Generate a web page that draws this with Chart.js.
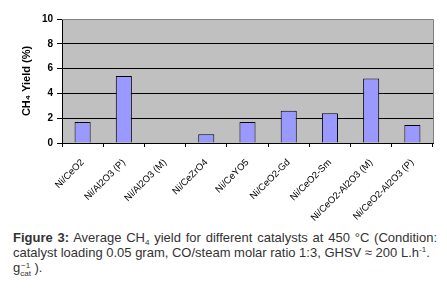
<!DOCTYPE html>
<html><head><meta charset="utf-8">
<script src="https://cdn.jsdelivr.net/npm/chart.js@4/dist/chart.umd.min.js"></script>
<style>
html,body{margin:0;padding:0;background:#fff;width:447px;height:288px;overflow:hidden;}
#wrap{position:absolute;left:0;top:0;width:447px;height:225px;}
#cap{position:absolute;left:13px;top:230px;width:424px;font-family:"Liberation Sans",Arial,sans-serif;font-size:13px;line-height:15px;color:#333;text-align:justify;}
#cap b{font-weight:bold;}
.sub{font-size:8px;vertical-align:-3px;line-height:0;}
.sup{font-size:8px;vertical-align:5px;line-height:0;}
</style></head>
<body>
<div id="wrap"><canvas id="c"></canvas></div>
<div id="cap"><b>Figure 3:</b> Average CH<span class="sub">4</span> yield for different catalysts at 450 &#176;C (Condition: catalyst loading 0.05 gram, CO/steam molar ratio 1:3, GHSV &#8776; 200 L.h<span class="sup">-1</span>.<br>g<span style="display:inline-block;vertical-align:-4px;line-height:8px;font-size:8px;text-align:center;">&#8722;1<br>cat</span> ).</div>
<script>
const categories = ["Ni/CeO2","Ni/Al2O3 (P)","Ni/Al2O3 (M)","Ni/CeZrO4","Ni/CeYO5","Ni/CeO2-Gd","Ni/CeO2-Sm","Ni/CeO2-Al2O3 (M)","Ni/CeO2-Al2O3 (P)"];
const ch4Yield = [1.7, 5.4, 0, 0.7, 1.7, 2.6, 2.4, 5.2, 1.45];
const yTicks = [0, 2, 4, 6, 8, 10];

const bgPlugin = {
  id: 'bg',
  beforeDraw(chart) {
    const {ctx, chartArea: a} = chart;
    ctx.save();
    ctx.fillStyle = '#c0c0c0';
    ctx.fillRect(a.left, a.top, a.right - a.left, a.bottom - a.top);
    ctx.restore();
  },
  afterDraw(chart) {
    const {ctx, chartArea: a} = chart;
    ctx.save();
    ctx.strokeStyle = '#808080';
    ctx.lineWidth = 1;
    ctx.beginPath();
    ctx.moveTo(a.left, a.top + 0.5);
    ctx.lineTo(a.right + 0.5, a.top + 0.5);
    ctx.lineTo(a.right + 0.5, a.bottom);
    ctx.stroke();
    ctx.restore();
  }
};

new Chart(document.getElementById('c'), {
  type: 'bar',
  data: {
    labels: categories,
    datasets: [{
      data: ch4Yield,
      backgroundColor: '#9999ff',
      borderColor: '#000',
      borderWidth: 1,
      categoryPercentage: 1,
      barPercentage: 0.39
    }]
  },
  options: {
    responsive: true,
    maintainAspectRatio: false,
    animation: false,
    layout: {padding: {top: 19, right: 14, left: 0, bottom: 0}},
    plugins: {legend: {display: false}, tooltip: {enabled: false}},
    scales: {
      x: {
        grid: {display: true, drawOnChartArea: false, offset: true, color: '#000', tickLength: 4, tickColor: '#000'},
        border: {color: '#000', width: 1},
        ticks: {minRotation: 45, maxRotation: 45, autoSkip: false, color: '#000', font: {family: 'Liberation Sans, Arial', size: 9.5}, padding: 10},
        afterFit(s) { s.height = 82; }
      },
      y: {
        min: 0, max: 10,
        afterBuildTicks(s) { s.ticks = yTicks.map(v => ({value: v})); },
        grid: {color: ctx => (ctx.tick && ctx.tick.value === 10) ? '#808080' : '#000', tickLength: 5, tickColor: '#000'},
        border: {color: '#000', width: 1},
        ticks: {color: '#000', font: {family: 'Liberation Sans, Arial', size: 10, weight: 'bold'}, padding: 4},
        title: {display: true, text: 'CH\u2084 Yield (%)', color: '#000', font: {family: 'Liberation Sans, Arial', size: 11, weight: 'bold'}, padding: {top: 20, bottom: 0}},
        afterFit(s) { s.width = 62; }
      }
    }
  },
  plugins: [bgPlugin]
});
</script>
</body></html>
